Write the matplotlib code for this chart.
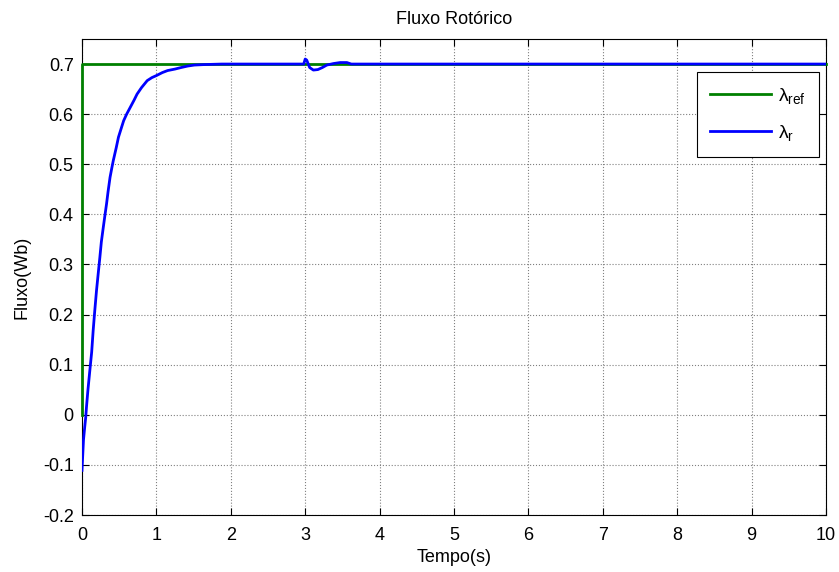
import matplotlib
matplotlib.use("Agg")
import matplotlib.pyplot as plt

plt.rcParams['font.family'] = ['Liberation Sans', 'DejaVu Sans']
plt.rcParams['mathtext.fontset'] = 'custom'
plt.rcParams['mathtext.rm'] = 'Liberation Sans'
plt.rcParams['mathtext.it'] = 'Liberation Sans'

# reference flux
t_ref = [0.0, 0.0, 10.0]
lam_ref = [0.0, 0.7, 0.7]

# rotor flux
t_r = [0.0, 0.01, 0.02, 0.036, 0.05, 0.06, 0.08, 0.105, 0.13, 0.15, 0.17, 0.195, 0.22,
       0.24, 0.26, 0.286, 0.31, 0.33, 0.35, 0.377, 0.40, 0.42, 0.46, 0.49, 0.53, 0.56,
       0.60, 0.65, 0.70, 0.74, 0.80, 0.877, 0.94, 1.0, 1.08, 1.15, 1.25, 1.33, 1.42, 1.51,
       1.65, 1.88, 2.5, 2.98, 3.0, 3.02, 3.06, 3.11, 3.17, 3.23, 3.29, 3.38, 3.47, 3.56,
       3.62, 4.5, 6.0, 8.0, 10.0]
lam_r = [-0.111, -0.08, -0.05, -0.025, -0.005, 0.015, 0.05, 0.088, 0.125, 0.168, 0.205,
         0.248, 0.285, 0.314, 0.345, 0.374, 0.400, 0.421, 0.445, 0.474, 0.492, 0.507, 0.533,
         0.554, 0.573, 0.587, 0.600, 0.614, 0.628, 0.640, 0.653, 0.667, 0.673, 0.677,
         0.683, 0.687, 0.690, 0.693, 0.696, 0.698, 0.699, 0.700, 0.700, 0.700, 0.710,
         0.708, 0.693, 0.688, 0.689, 0.693, 0.698, 0.701, 0.703, 0.703, 0.700, 0.700,
         0.700, 0.700, 0.700]

xticks = list(range(0, 11))
yticks = [-0.2, -0.1, 0, 0.1, 0.2, 0.3, 0.4, 0.5, 0.6, 0.7]
ytick_labels = ['-0.2', '-0.1', '0', '0.1', '0.2', '0.3', '0.4', '0.5', '0.6', '0.7']

fig = plt.figure(figsize=(8.39, 5.72), dpi=100)
ax = fig.add_axes([82 / 839, 1 - 515 / 572, 744 / 839, 476 / 572])

ax.plot(t_ref, lam_ref, color='#008000', lw=2.0, label=r'$\lambda_{\mathrm{ref}}$',
        clip_on=False, zorder=3)
ax.plot(t_r, lam_r, color='#0000ff', lw=2.0, label=r'$\lambda_{\mathrm{r}}$', zorder=4)

ax.set_xlim(0, 10)
ax.set_ylim(-0.2, 0.75)
ax.set_xticks(xticks)
ax.set_xticklabels([str(v) for v in xticks])
ax.set_yticks(yticks)
ax.set_yticklabels(ytick_labels)
ax.tick_params(direction='in', top=True, right=True, labelsize=13, length=5, width=0.8)
ax.tick_params(axis='x', pad=9)
ax.tick_params(axis='y', pad=6)
ax.grid(True, linestyle=':', color='#808080', linewidth=0.8)
for s in ax.spines.values():
    s.set_linewidth(0.8)
    s.set_color('black')

ax.set_title('Fluxo Rotórico', fontsize=13, pad=11)
ax.set_xlabel('Tempo(s)', fontsize=13, labelpad=3)
ax.set_ylabel('Fluxo(Wb)', fontsize=13, labelpad=9)

leg = ax.legend(loc='upper right', bbox_to_anchor=(737 / 744, (515 - 72) / 476), fontsize=14,
                fancybox=False, framealpha=1, edgecolor='black', handlelength=3.1,
                borderpad=0.7, labelspacing=0.9, handletextpad=0.36, borderaxespad=0)
leg.get_frame().set_linewidth(0.8)

fig.savefig('out.png', dpi=100)
